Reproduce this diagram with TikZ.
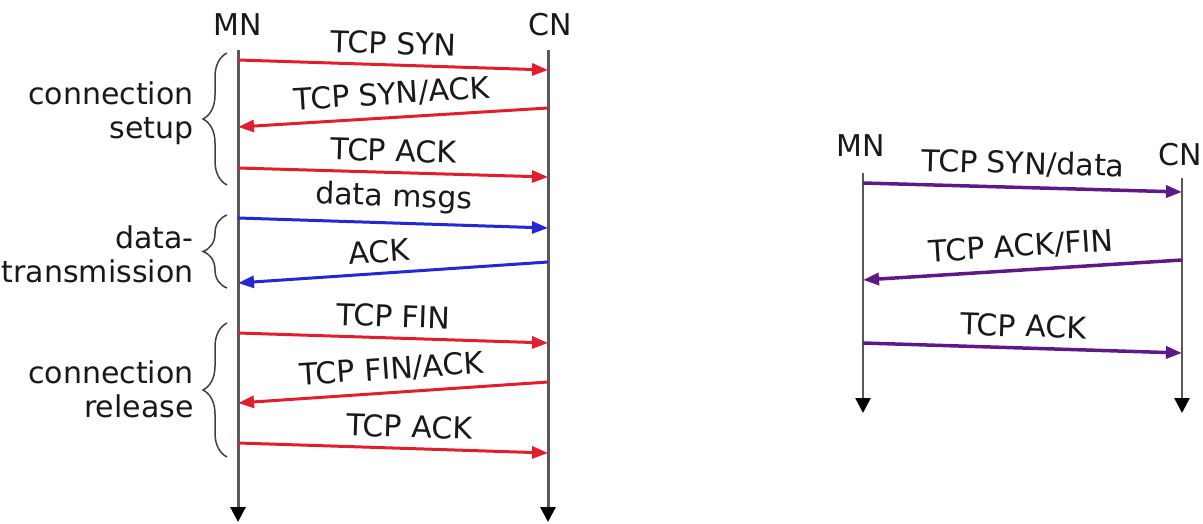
\documentclass[tikz,border=0pt]{standalone}
\usepackage{fontspec}
\setmainfont{DejaVu Sans}
\usetikzlibrary{arrows.meta,decorations.pathreplacing}

\definecolor{msgred}{RGB}{225,30,45}
\definecolor{msgblue}{RGB}{35,40,210}
\definecolor{msgpurple}{RGB}{95,25,135}

\begin{document}
\begin{tikzpicture}[x=1pt, y=-1pt,
    every node/.style={font=\fontsize{30}{34}\selectfont, text=black!90},
    lifeline/.style={line width=3pt, black!65, -{Triangle[length=15pt, width=15pt, black]}},
    msg/.style={line width=3pt, -{Triangle[length=16pt, width=12pt]}},
    lbl/.style={midway, above, sloped, inner sep=9pt},
    grp/.style={decorate, decoration={brace, amplitude=24pt}, line width=1.5pt, black!75},
    side/.style={anchor=east, align=right}]
    \useasboundingbox (0,0) rectangle (1203,524);

    % Entidades (esquerda)
    \node (mnL) at (238,25) {MN};
    \node (cnL) at (550,25) {CN};
    \coordinate (mnLtop) at (238,50);  \coordinate (mnLend) at (238,522);
    \coordinate (cnLtop) at (548,50);  \coordinate (cnLend) at (548,522);
    \draw[lifeline] (mnLtop) -- (mnLend);
    \draw[lifeline] (cnLtop) -- (cnLend);

    % Mensagens (esquerda)
    \coordinate (a1) at (238,60);   \coordinate (b1) at (548,70);
    \coordinate (a2) at (238,127);  \coordinate (b2) at (548,108);
    \coordinate (a3) at (238,168);  \coordinate (b3) at (548,177);
    \coordinate (a4) at (238,218);  \coordinate (b4) at (548,228);
    \coordinate (a5) at (238,283);  \coordinate (b5) at (548,262);
    \coordinate (a6) at (238,333);  \coordinate (b6) at (548,343);
    \coordinate (a7) at (238,403);  \coordinate (b7) at (548,382);
    \coordinate (a8) at (238,443);  \coordinate (b8) at (548,453);
    \draw[msg, msgred] (a1) -- (b1) node[lbl] {TCP SYN};
    \draw[msg, msgred] (b2) -- (a2) node[lbl] {TCP SYN/ACK};
    \draw[msg, msgred] (a3) -- (b3) node[lbl] {TCP ACK};
    \draw[msg, msgblue] (a4) -- (b4) node[lbl] {data msgs};
    \draw[msg, msgblue] (b5) -- (a5) node[lbl, pos=.54] {ACK};
    \draw[msg, msgred] (a6) -- (b6) node[lbl] {TCP FIN};
    \draw[msg, msgred] (b7) -- (a7) node[lbl] {TCP FIN/ACK};
    \draw[msg, msgred] (a8) -- (b8) node[lbl, pos=.55] {TCP ACK};

    % Fases
    \draw[grp] (227,185) -- (227,53);
    \draw[grp] (227,288) -- (227,215);
    \draw[grp] (227,457) -- (227,323);
    \node[side] (setupLbl) at (197,113) {connection\\setup};
    \node[side] (dataLbl) at (197,254) {data-\\transmission};
    \node[side] (releaseLbl) at (197,389) {connection\\release};

    % Entidades (direita)
    \node (mnR) at (861,146) {MN};
    \node (cnR) at (1180,155) {CN};
    \coordinate (mnRtop) at (863,173);  \coordinate (mnRend) at (863,413);
    \coordinate (cnRtop) at (1182,178); \coordinate (cnRend) at (1182,413);
    \draw[lifeline, line width=2.5pt] (mnRtop) -- (mnRend);
    \draw[lifeline, line width=2.5pt] (cnRtop) -- (cnRend);

    % Mensagens (direita)
    \coordinate (c1) at (863,183);   \coordinate (d1) at (1182,192);
    \coordinate (c2) at (863,280);   \coordinate (d2) at (1182,260);
    \coordinate (c3) at (863,343);   \coordinate (d3) at (1182,353);
    \draw[msg, msgpurple, line width=3.5pt] (c1) -- (d1) node[lbl] {TCP SYN/data};
    \draw[msg, msgpurple, line width=3.5pt] (d2) -- (c2) node[lbl] {TCP ACK/FIN};
    \draw[msg, msgpurple, line width=3.5pt] (c3) -- (d3) node[lbl] {TCP ACK};
\end{tikzpicture}
\end{document}
